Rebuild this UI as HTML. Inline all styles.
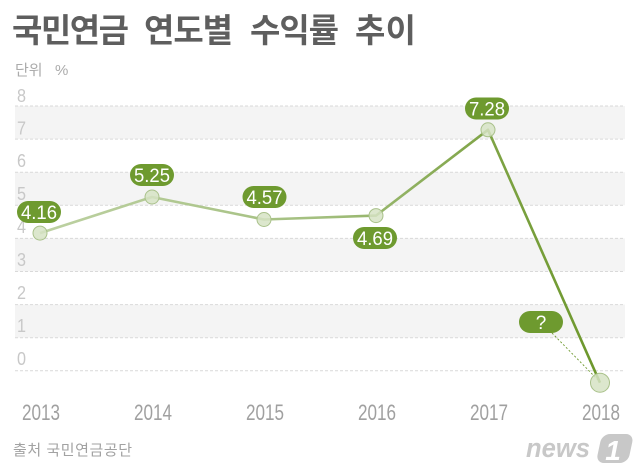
<!DOCTYPE html>
<html><head><meta charset="utf-8">
<style>
html,body{margin:0;padding:0;background:#fff;}
svg{display:block;}
</style></head>
<body>
<svg width="640" height="473" viewBox="0 0 640 473" xmlns="http://www.w3.org/2000/svg">
<defs>
<linearGradient id="lg" gradientUnits="userSpaceOnUse" x1="40" y1="0" x2="600" y2="0">
<stop offset="0" stop-color="#bdd1a2"/>
<stop offset="0.5" stop-color="#a3bf7f"/>
<stop offset="0.8" stop-color="#7fa446"/>
<stop offset="1" stop-color="#6c972b"/>
</linearGradient>
</defs>
<rect width="640" height="473" fill="#fff"/>
<!-- title -->
<g font-family="'Liberation Sans','Noto Sans CJK KR',sans-serif" font-weight="bold" font-size="33" fill="#5e5e5e">
<text x="12" y="42" textLength="117" lengthAdjust="spacing">국민연금</text>
<text x="144" y="42" textLength="89" lengthAdjust="spacing">연도별</text>
<text x="250" y="42" textLength="89" lengthAdjust="spacing">수익률</text>
<text x="355" y="42" textLength="61" lengthAdjust="spacing">추이</text>
</g>
<g font-family="'Liberation Sans','Noto Sans CJK KR',sans-serif" font-size="15" fill="#ababab">
<text x="15" y="75">단위</text>
<text x="55" y="75">%</text>
</g>

<!-- bands -->
<g fill="#f4f4f4">
<rect x="15" y="106" width="610" height="33.1"/>
<rect x="15" y="172.2" width="610" height="33.1"/>
<rect x="15" y="238.4" width="610" height="33.1"/>
<rect x="15" y="304.6" width="610" height="33.1"/>
</g>
<g stroke="#d9d9d9" stroke-width="1" stroke-dasharray="3,2">
<line x1="15" x2="625" y1="106" y2="106"/>
<line x1="15" x2="625" y1="139.1" y2="139.1"/>
<line x1="15" x2="625" y1="172.2" y2="172.2"/>
<line x1="15" x2="625" y1="205.3" y2="205.3"/>
<line x1="15" x2="625" y1="238.4" y2="238.4"/>
<line x1="15" x2="625" y1="271.5" y2="271.5"/>
<line x1="15" x2="625" y1="304.6" y2="304.6"/>
<line x1="15" x2="625" y1="337.7" y2="337.7"/>
<line x1="15" x2="625" y1="370.8" y2="370.8"/>
</g>
<!-- y labels -->
<g font-family="'Liberation Sans',sans-serif" font-size="18" fill="#c8c8c8">
<text x="17" y="102" textLength="9" lengthAdjust="spacingAndGlyphs">8</text>
<text x="17" y="134.5" textLength="9" lengthAdjust="spacingAndGlyphs">7</text>
<text x="17" y="167" textLength="9" lengthAdjust="spacingAndGlyphs">6</text>
<text x="17" y="200" textLength="9" lengthAdjust="spacingAndGlyphs">5</text>
<text x="17" y="233" textLength="9" lengthAdjust="spacingAndGlyphs">4</text>
<text x="17" y="266" textLength="9" lengthAdjust="spacingAndGlyphs">3</text>
<text x="17" y="299" textLength="9" lengthAdjust="spacingAndGlyphs">2</text>
<text x="17" y="332" textLength="9" lengthAdjust="spacingAndGlyphs">1</text>
<text x="17" y="365" textLength="9" lengthAdjust="spacingAndGlyphs">0</text>
</g>

<!-- line -->
<polyline points="40,233.1 152,197 264,219.5 376,215.6 488,129.8 600,382.7" fill="none" stroke="url(#lg)" stroke-width="2.6" stroke-linejoin="round"/>
<!-- leader -->
<line x1="552" y1="333" x2="598" y2="380" stroke="#6e9a2f" stroke-width="0.9" stroke-dasharray="2,2"/>
<!-- points -->
<g fill="#d6e3c4" fill-opacity="0.85" stroke="#a9c18a" stroke-width="1">
<circle cx="40" cy="233.1" r="7"/>
<circle cx="152" cy="197" r="7"/>
<circle cx="264" cy="219.5" r="7"/>
<circle cx="376" cy="215.6" r="7"/>
<circle cx="488" cy="129.8" r="7"/>
<circle cx="600" cy="382.7" r="9.5"/>
</g>

<!-- pills -->
<g fill="#6e9a2f">
<rect x="17" y="201" width="44" height="22" rx="11"/>
<rect x="130" y="164" width="44" height="22" rx="11"/>
<rect x="242.5" y="186" width="44" height="22" rx="11"/>
<rect x="353" y="227" width="44" height="22" rx="11"/>
<rect x="465" y="97.5" width="44" height="22" rx="11"/>
<rect x="519" y="311" width="44" height="22" rx="11"/>
</g>
<g font-family="'Liberation Sans',sans-serif" font-size="19" fill="#fff" text-anchor="middle">
<text x="39" y="219" textLength="36" lengthAdjust="spacingAndGlyphs">4.16</text>
<text x="152" y="182" textLength="36" lengthAdjust="spacingAndGlyphs">5.25</text>
<text x="264.5" y="204" textLength="36" lengthAdjust="spacingAndGlyphs">4.57</text>
<text x="375" y="245" textLength="36" lengthAdjust="spacingAndGlyphs">4.69</text>
<text x="487" y="115.5" textLength="36" lengthAdjust="spacingAndGlyphs">7.28</text>
<text x="541" y="329">?</text>
</g>

<!-- x labels -->
<g font-family="'Liberation Sans',sans-serif" font-size="22" fill="#a0a0a0" text-anchor="middle">
<text x="41" y="420" textLength="38" lengthAdjust="spacingAndGlyphs">2013</text>
<text x="153" y="420" textLength="38" lengthAdjust="spacingAndGlyphs">2014</text>
<text x="265" y="420" textLength="38" lengthAdjust="spacingAndGlyphs">2015</text>
<text x="377" y="420" textLength="38" lengthAdjust="spacingAndGlyphs">2016</text>
<text x="489" y="420" textLength="38" lengthAdjust="spacingAndGlyphs">2017</text>
<text x="601" y="420" textLength="38" lengthAdjust="spacingAndGlyphs">2018</text>
</g>

<!-- source -->
<text x="13" y="455" font-family="'Liberation Sans','Noto Sans CJK KR',sans-serif" font-size="15" fill="#a2a2a2" textLength="119" lengthAdjust="spacing">출처 국민연금공단</text>

<!-- news1 logo -->
<text x="526" y="457" font-family="'Liberation Sans',sans-serif" font-weight="bold" font-style="italic" font-size="27" fill="#c8c8c8" textLength="64" lengthAdjust="spacingAndGlyphs">news</text>
<g transform="translate(600,434) skewX(-12)">
<rect x="2" y="0" width="32" height="29" rx="8" fill="#c8c8c8"/>
</g>
<text x="613" y="460" font-family="'Liberation Sans',sans-serif" font-weight="bold" font-style="italic" font-size="28" fill="#fff" text-anchor="middle">1</text>
</svg>
</body></html>
